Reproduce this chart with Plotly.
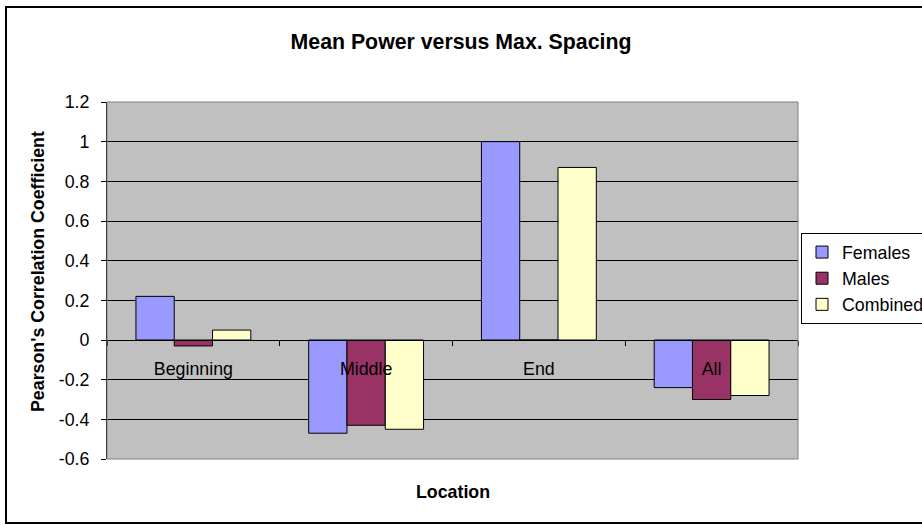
import plotly.graph_objects as go

categories = ["Beginning", "Middle", "End", "All"]
females = [0.22, -0.47, 1.0, -0.24]
males = [-0.03, -0.43, 0.0, -0.30]
combined = [0.05, -0.45, 0.87, -0.28]
y_tick_vals = [1.2, 1.0, 0.8, 0.6, 0.4, 0.2, 0.0, -0.2, -0.4, -0.6]
y_tick_text = ["1.2", "1", "0.8", "0.6", "0.4", "0.2", "0", "-0.2", "-0.4", "-0.6"]

FONT = "Arial, Liberation Sans, sans-serif"
FS = 17.8
series = [("Females", females, "#9999FF"), ("Males", males, "#993366"), ("Combined", combined, "#FFFFCC")]

fig = go.Figure()
for name, vals, col in series:
    fig.add_trace(go.Bar(
        x=categories, y=vals, name=name,
        marker=dict(color=col, line=dict(color="black", width=1)),
    ))

ymin, ymax = -0.6, 1.2
zero_pos = (0 - ymin) / (ymax - ymin)

fig.update_layout(
    width=922, height=525,
    margin=dict(l=107, r=124, t=102, b=66, autoexpand=False),
    paper_bgcolor="white", plot_bgcolor="#C0C0C0",
    font=dict(family=FONT, size=FS, color="black"),
    barmode="group", bargap=0.335, bargroupgap=0,
    title=dict(text="<b>Mean Power versus Max. Spacing</b>", x=0.5, xanchor="center",
               y=1 - 42 / 525, yanchor="middle", font=dict(size=21.3, family=FONT)),
    showlegend=True,
    legend=dict(x=(801 - 107) / 691, xanchor="left", y=(459 - 233) / 357, yanchor="top",
                bordercolor="black", borderwidth=1, bgcolor="white",
                font=dict(size=FS, family=FONT), tracegroupgap=0,
                itemclick=False),
    xaxis=dict(anchor="free", position=zero_pos, showline=True, linecolor="black", linewidth=1,
               ticks="outside", tickson="boundaries", ticklen=5, tickcolor="black",
               showgrid=False, ticklabelstandoff=13, tickfont=dict(size=FS)),
    yaxis=dict(range=[ymin, ymax], tickvals=y_tick_vals, ticktext=y_tick_text,
               showline=True, linecolor="black", linewidth=1,
               ticks="outside", ticklen=5, tickcolor="black",
               showgrid=True, gridcolor="black", gridwidth=1,
               zeroline=True, zerolinecolor="black", zerolinewidth=1,
               ticklabelstandoff=8, tickfont=dict(size=FS)),
    shapes=[
        dict(type="rect", xref="paper", yref="paper", x0=0, x1=1, y0=0, y1=1,
             line=dict(color="#808080", width=1), layer="above"),
        dict(type="rect", xref="paper", yref="paper",
             x0=(6 - 107) / 691, x1=(930 - 107) / 691, y0=(459 - 523) / 357, y1=(459 - 7) / 357,
             line=dict(color="black", width=2), layer="above"),
    ],
    annotations=[
        dict(text="<b>Location</b>", xref="paper", yref="paper", x=0.5, y=(459 - 492) / 357,
             xanchor="center", yanchor="middle", showarrow=False, font=dict(size=FS, family=FONT)),
        dict(text="<b>Pearson's Correlation Coefficient</b>", xref="paper", yref="paper",
             x=(38 - 107) / 691, y=(459 - 272) / 357, xanchor="center", yanchor="middle",
             textangle=-90, showarrow=False, font=dict(size=FS, family=FONT)),
    ],
)
fig.update_yaxes(layer="above traces")

fig.write_html("out.html", config={"displayModeBar": False},
               post_script="document.body.style.margin='0';")
